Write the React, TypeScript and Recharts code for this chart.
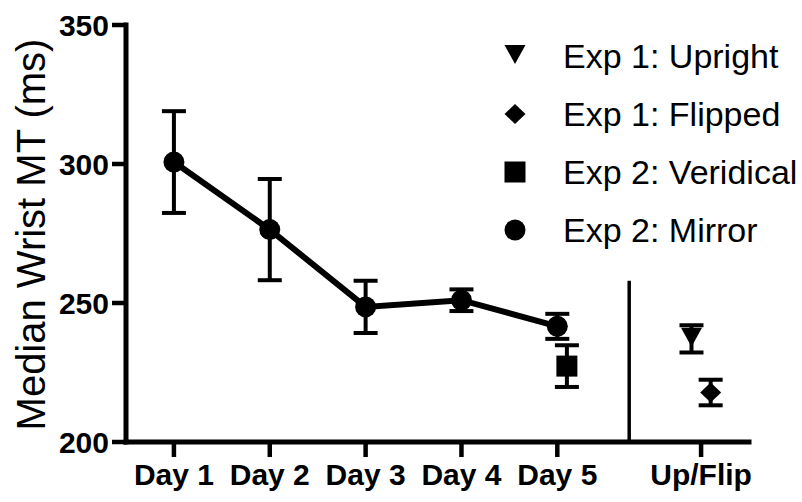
import React from "react";
import {
  ComposedChart,
  ErrorBar,
  Legend,
  Line,
  ReferenceLine,
  Scatter,
  XAxis,
  YAxis,
} from "recharts";

// Median wrist movement time, Exp 2 mirror across days plus single-session groups.
const dayPositions = [1, 2, 3, 4, 5];
const mirrorMeans = [300.7, 276.4, 248.6, 251.0, 241.6];
const mirrorErrors = [18.3, 18.2, 9.4, 3.9, 4.5];

const veridicalPositions = [5.1];
const veridicalMeans = [227.3];
const veridicalErrors = [7.5];

const uprightPositions = [6.4];
const uprightMeans = [237.1];
const uprightErrors = [4.9];

const flippedPositions = [6.6];
const flippedMeans = [217.8];
const flippedErrors = [4.6];

const xTickValues = [1, 2, 3, 4, 5, 6.5];
const xTickLabels = ["Day 1", "Day 2", "Day 3", "Day 4", "Day 5", "Up/Flip"];
const yTicks = [200, 250, 300, 350];
const separatorX = 5.75;
const separatorTop = 258;

const legendLabels = [
  "Exp 1: Upright",
  "Exp 1: Flipped",
  "Exp 2: Veridical",
  "Exp 2: Mirror",
];
const legendShapes = ["triangleDown", "diamond", "square", "circle"];

const FONT = "'Liberation Sans', Arial, Helvetica, sans-serif";
const INK = "#000";

const toPoints = (xs: number[], ys: number[], errs: number[]) =>
  xs.map((x, i) => ({ x, y: ys[i], err: errs[i] }));

const mirrorData = toPoints(dayPositions, mirrorMeans, mirrorErrors);
const veridicalData = toPoints(veridicalPositions, veridicalMeans, veridicalErrors);
const uprightData = toPoints(uprightPositions, uprightMeans, uprightErrors);
const flippedData = toPoints(flippedPositions, flippedMeans, flippedErrors);

function marker(shape: string, cx: number, cy: number, key?: string) {
  switch (shape) {
    case "triangleDown":
      return (
        <path
          key={key}
          d={`M${cx - 10.5},${cy - 11} L${cx + 10.5},${cy - 11} L${cx},${cy + 8} Z`}
          fill={INK}
        />
      );
    case "diamond":
      return (
        <path
          key={key}
          d={`M${cx},${cy - 10} L${cx + 10.5},${cy} L${cx},${cy + 10} L${cx - 10.5},${cy} Z`}
          fill={INK}
        />
      );
    case "square":
      return <rect key={key} x={cx - 10.5} y={cy - 10.5} width={21} height={21} fill={INK} />;
    default:
      return <circle key={key} cx={cx} cy={cy} r={10.5} fill={INK} />;
  }
}

const shapeOf = (shape: string) => (props: any) => marker(shape, props.cx, props.cy);

function renderYLabel(props: any) {
  const vb = props?.viewBox ?? { x: 0, y: 25, height: 417 };
  const x = (vb.x ?? 0) + 45;
  const y = vb.y + vb.height / 2 + 1;
  return (
    <text
      x={x}
      y={y}
      transform={`rotate(-90 ${x} ${y})`}
      textAnchor="middle"
      fontSize={40}
      fontFamily={FONT}
      fill={INK}
    >
      Median Wrist MT (ms)
    </text>
  );
}

function LegendBox() {
  return (
    <svg width={312} height={232}>
      {legendLabels.map((label, i) => {
        const cy = 30 + i * 58;
        return (
          <g key={label}>
            {marker(legendShapes[i], 25, cy)}
            <text x={73} y={cy + 12} fontSize={34} fontFamily={FONT} fill={INK}>
              {label}
            </text>
          </g>
        );
      })}
    </svg>
  );
}

const bars = (
  <ErrorBar
    dataKey="err"
    direction="y"
    width={12}
    stroke={INK}
    strokeWidth={4}
    isAnimationActive={false}
  />
);

export default function App() {
  const tickStyle = { fill: INK, fontSize: 30, fontWeight: "bold", fontFamily: FONT };
  return (
    <div style={{ position: "absolute", left: 0, top: 0, background: "#fff" }}>
      <ComposedChart
        width={802}
        height={502}
        margin={{ top: 25, right: 53, bottom: 0, left: 0 }}
      >
        <XAxis
          dataKey="x"
          type="number"
          domain={[0.5, 7]}
          ticks={xTickValues}
          interval={0}
          tickFormatter={(v: number) => xTickLabels[xTickValues.indexOf(v)] ?? ""}
          height={60}
          tickSize={15}
          tickMargin={7}
          stroke={INK}
          strokeWidth={5}
          axisLine={{ stroke: INK, strokeWidth: 5, strokeLinecap: "square" }}
          tickLine={{ stroke: INK, strokeWidth: 4.5 }}
          tick={tickStyle}
        />
        <YAxis
          dataKey="y"
          type="number"
          domain={[200, 350]}
          ticks={yTicks}
          interval={0}
          width={126}
          tickSize={14}
          tickMargin={3}
          stroke={INK}
          strokeWidth={5}
          axisLine={{ stroke: INK, strokeWidth: 5, strokeLinecap: "square" }}
          tickLine={{ stroke: INK, strokeWidth: 4.5 }}
          tick={tickStyle}
          label={renderYLabel}
        />
        <ReferenceLine
          segment={[
            { x: separatorX, y: separatorTop },
            { x: separatorX, y: 200 },
          ]}
          stroke={INK}
          strokeWidth={3.5}
          ifOverflow="visible"
        />
        <Line
          data={mirrorData}
          dataKey="y"
          type="linear"
          stroke={INK}
          strokeWidth={6}
          dot={shapeOf("circle")}
          activeDot={false}
          legendType="none"
          isAnimationActive={false}
        >
          {bars}
        </Line>
        <Scatter
          data={veridicalData}
          dataKey="y"
          shape={shapeOf("square")}
          legendType="none"
          isAnimationActive={false}
        >
          {bars}
        </Scatter>
        <Scatter
          data={uprightData}
          dataKey="y"
          shape={shapeOf("triangleDown")}
          legendType="none"
          isAnimationActive={false}
        >
          {bars}
        </Scatter>
        <Scatter
          data={flippedData}
          dataKey="y"
          shape={shapeOf("diamond")}
          legendType="none"
          isAnimationActive={false}
        >
          {bars}
        </Scatter>
        <Legend
          layout="horizontal"
          align="center"
          verticalAlign="middle"
          wrapperStyle={{ left: 490, top: 26, width: 312, height: 232 }}
          content={() => <LegendBox />}
        />
      </ComposedChart>
    </div>
  );
}
